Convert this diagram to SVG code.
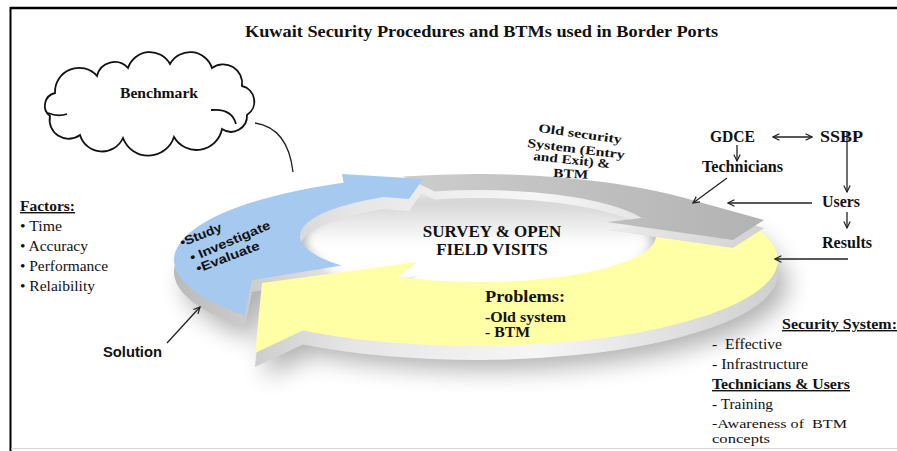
<svg xmlns="http://www.w3.org/2000/svg" width="897" height="451" viewBox="0 0 897 451">
<defs>
<style>
.t{font-family:"Liberation Serif","Times New Roman",serif;fill:#111;}
.b{font-weight:bold;}
.u{text-decoration:underline;}
.s{font-family:"Liberation Sans",Arial,sans-serif;font-weight:bold;fill:#111;}
.conn{fill:none;stroke:#222;stroke-width:1.3;}
.arr{marker-end:url(#ah);}
.side{fill:url(#side);}
</style>
<marker id="ah" viewBox="0 0 10 10" refX="9" refY="5" markerWidth="8" markerHeight="8" markerUnits="userSpaceOnUse" orient="auto-start-reverse">
<path d="M1,1 L9,5 L1,9" fill="none" stroke="#222" stroke-width="1.5"/>
</marker>
<filter id="blur" x="-20%" y="-50%" width="140%" height="200%"><feGaussianBlur stdDeviation="12"/></filter>
<filter id="soft" x="-10%" y="-30%" width="120%" height="160%"><feGaussianBlur stdDeviation="4"/></filter>
<linearGradient id="side" gradientUnits="userSpaceOnUse" x1="170" y1="0" x2="780" y2="0">
<stop offset="0" stop-color="#b9b9b9"/><stop offset="0.3" stop-color="#e6e6e6"/><stop offset="0.6" stop-color="#f6f6f6"/><stop offset="1" stop-color="#cfcfcf"/>
</linearGradient>
<linearGradient id="grayTop" gradientUnits="userSpaceOnUse" x1="400" y1="0" x2="770" y2="0">
<stop offset="0" stop-color="#cdcdcd"/><stop offset="1" stop-color="#b2b2b2"/>
</linearGradient>
<linearGradient id="hole" gradientUnits="userSpaceOnUse" x1="0" y1="195" x2="0" y2="245">
<stop offset="0" stop-color="#cfcfcf"/><stop offset="1" stop-color="#ffffff"/>
</linearGradient>
<path id="pB" d="M244.7,315.3 A302,86 0 0 1 343.6,182.7 L342,174 L423,179 L409,199 L383.7,197 A178,46 0 0 0 341.6,265.6 L252,280 Z"/>
<path id="pG" d="M402.9,176.6 A302,86 0 0 1 700,202.3 L764,220 L733,240 L607,222 L642,218.1 A178,46 0 0 0 434.9,191.4 Z"/>
<path id="pY" d="M759.8,230.6 A302,86 0 0 1 302.8,330.4 L255,353 L262,283 L417,262 L397.2,277 A178,46 0 0 0 655.3,232 Z"/>
</defs>
<rect width="897" height="451" fill="#fff"/>
<g id="frame">
<path d="M10,8 H897" stroke="#000" stroke-width="2.5"/>
<path d="M10.5,7 V451" stroke="#000" stroke-width="2"/>
<path d="M11,448.5 H897" stroke="#d4d4d4" stroke-width="1"/>
</g>
<g id="title"><text class="t b" x="245" y="37" font-size="16" textLength="473" lengthAdjust="spacingAndGlyphs">Kuwait Security Procedures and BTMs used in Border Ports</text></g>

<g id="ring-shadow" filter="url(#blur)" opacity="0.3" transform="translate(10,24)" fill="#000">
<use href="#pB"/><use href="#pG"/><use href="#pY"/>
</g>
<ellipse cx="478" cy="240" rx="172" ry="44" fill="url(#hole)" filter="url(#soft)"/>
<g id="arrow-study-side"><use href="#pB" class="side" transform="translate(0,12)"/></g>
<g id="arrow-problems">
<use href="#pY" class="side" transform="translate(0,14)"/>
<use href="#pY" fill="#ffffa6"/>
<text class="t b" x="485" y="302" font-size="17" textLength="80" lengthAdjust="spacingAndGlyphs">Problems:</text>
<text class="t b" x="485" y="322" font-size="14.5" textLength="81" lengthAdjust="spacingAndGlyphs">-Old system</text>
<text class="t b" x="485" y="337" font-size="14.5" textLength="45" lengthAdjust="spacingAndGlyphs">- BTM</text>
</g>
<g id="arrow-old-system">
<use href="#pG" class="side" transform="translate(0,8)"/>
<use href="#pG" fill="url(#grayTop)"/>
</g>
<g id="arrow-study">
<use href="#pB" fill="#a6c9f0"/>
<text class="s" x="182" y="247" font-size="12.5" transform="rotate(-22 182 247)" textLength="44" lengthAdjust="spacingAndGlyphs">•Study</text>
<text class="s" x="192" y="262" font-size="12.5" transform="rotate(-23 192 262)" textLength="86" lengthAdjust="spacingAndGlyphs">• Investigate</text>
<text class="s" x="198" y="273" font-size="12.5" transform="rotate(-21 198 273)" textLength="67" lengthAdjust="spacingAndGlyphs">•Evaluate</text>
</g>
<g id="survey">
<text class="t b" x="492" y="237" font-size="17" text-anchor="middle">SURVEY &amp; OPEN</text>
<text class="t b" x="492" y="255" font-size="17" text-anchor="middle">FIELD VISITS</text>
</g>

<g id="benchmark">
<path d="M50,116 A13,13 0 0 1 55,93 A24,24 0 0 1 97,76 A18,18 0 0 1 128,68 A23,23 0 0 1 170,64 A23,23 0 0 1 212,68 A19,19 0 0 1 242,86 A16,16 0 0 1 247,115 A16,16 0 0 1 222,129 A26,26 0 0 1 174,137 A27,27 0 0 1 123,138 A23,23 0 0 1 80,135 A19,19 0 0 1 50,116 Z" fill="#fff" stroke="#111" stroke-width="1.8"/>
<path d="M211,110 Q232,108 236,124 M48,113 Q58,117 67,114" fill="none" stroke="#111" stroke-width="1.8"/>
<text class="t b" x="120" y="98" font-size="14" textLength="78" lengthAdjust="spacingAndGlyphs">Benchmark</text>
</g>

<g id="factors">
<text class="t b u" x="20" y="211" font-size="14" textLength="55" lengthAdjust="spacingAndGlyphs">Factors:</text>
<text class="t" x="20" y="231" font-size="14" textLength="42" lengthAdjust="spacingAndGlyphs">• Time</text>
<text class="t" x="20" y="251" font-size="14" textLength="68" lengthAdjust="spacingAndGlyphs">• Accuracy</text>
<text class="t" x="20" y="271" font-size="14" textLength="88" lengthAdjust="spacingAndGlyphs">• Performance</text>
<text class="t" x="20" y="291" font-size="14" textLength="75" lengthAdjust="spacingAndGlyphs">• Relaibility</text>
</g>
<g id="solution"><text class="s" x="103" y="357" font-size="14" textLength="59" lengthAdjust="spacingAndGlyphs">Solution</text></g>

<g id="old-system-label">
<text class="t b" x="538" y="132" font-size="12.5" transform="rotate(8 538 132)" textLength="84" lengthAdjust="spacingAndGlyphs">Old security</text>
<text class="t b" x="527" y="147" font-size="12.5" transform="rotate(7 527 147)" textLength="98" lengthAdjust="spacingAndGlyphs">System (Entry</text>
<text class="t b" x="533" y="160" font-size="12.5" transform="rotate(6 533 160)" textLength="77" lengthAdjust="spacingAndGlyphs">and Exit) &amp;</text>
<text class="t b" x="553" y="177" font-size="12.5" transform="rotate(3 553 177)" textLength="35" lengthAdjust="spacingAndGlyphs">BTM</text>
</g>
<g id="gdce"><text class="t b" x="710" y="142" font-size="16" textLength="45" lengthAdjust="spacingAndGlyphs">GDCE</text></g>
<g id="ssbp"><text class="t b" x="820" y="142" font-size="16" textLength="43" lengthAdjust="spacingAndGlyphs">SSBP</text></g>
<g id="technicians"><text class="t b" x="702" y="172" font-size="16" textLength="81" lengthAdjust="spacingAndGlyphs">Technicians</text></g>
<g id="users"><text class="t b" x="822" y="207" font-size="16" textLength="38" lengthAdjust="spacingAndGlyphs">Users</text></g>
<g id="results"><text class="t b" x="822" y="248" font-size="16" textLength="50" lengthAdjust="spacingAndGlyphs">Results</text></g>

<g id="security-list">
<text class="t b u" x="782" y="329" font-size="14" textLength="115" lengthAdjust="spacingAndGlyphs">Security System:</text>
<text class="t" x="712" y="349" font-size="14" xml:space="preserve" textLength="70" lengthAdjust="spacingAndGlyphs">-  Effective</text>
<text class="t" x="712" y="369" font-size="14" textLength="96" lengthAdjust="spacingAndGlyphs">- Infrastructure</text>
<text class="t b u" x="712" y="389" font-size="14" textLength="138" lengthAdjust="spacingAndGlyphs">Technicians &amp; Users</text>
<text class="t" x="712" y="409" font-size="14" textLength="61" lengthAdjust="spacingAndGlyphs">- Training</text>
<text class="t" x="712" y="428" font-size="13" xml:space="preserve" textLength="135" lengthAdjust="spacingAndGlyphs">-Awareness of  BTM</text>
<text class="t" x="712" y="443" font-size="13" textLength="58" lengthAdjust="spacingAndGlyphs">concepts</text>
</g>

<g id="connectors">
<path class="conn" d="M255,123 Q288,128 293,172"/>
<path class="conn arr" d="M167,343 L200,307"/>
<path class="conn arr" d="M773,137 L812,137" marker-start="url(#ah)"/>
<path class="conn arr" d="M737,145 L737,161"/>
<path class="conn arr" d="M847,132 L847,192"/>
<path class="conn arr" d="M727,178 L693,203"/>
<path class="conn arr" d="M812,203 L728,203"/>
<path class="conn arr" d="M847,212 L847,228"/>
<path class="conn arr" d="M848,259 L775,259"/>
</g>
</svg>
